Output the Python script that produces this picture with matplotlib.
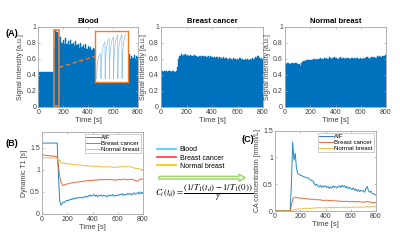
import numpy as np
import matplotlib
matplotlib.use("Agg")
import matplotlib.pyplot as plt
from matplotlib.patches import Rectangle, FancyArrow
from matplotlib.lines import Line2D
from matplotlib.ticker import FuncFormatter

plt.rcParams["font.family"] = ["Liberation Sans", "DejaVu Sans"]
plt.rcParams["mathtext.fontset"] = "stix"

# time grid (s)
t = np.arange(0, 801, 10)

# upper envelope of the signal intensity (a.u.)
blood_sig = [0.43] * 13 + [
    0.75, 0.96, 0.93, 0.88, 0.84, 0.87, 0.80, 0.83, 0.78, 0.86, 0.79, 0.82,
    0.77, 0.84, 0.78, 0.80, 0.76, 0.82, 0.77, 0.79, 0.74, 0.80, 0.75, 0.77,
    0.73, 0.78, 0.72, 0.76, 0.73, 0.75, 0.71, 0.74,
    0.72, 0.70, 0.74, 0.70, 0.72, 0.69, 0.73, 0.69, 0.71, 0.68, 0.72, 0.68,
    0.70, 0.67, 0.71, 0.67, 0.69, 0.66, 0.70, 0.66, 0.68, 0.65, 0.69, 0.65,
    0.67, 0.64,
    0.68, 0.62, 0.66, 0.60, 0.64, 0.61, 0.65, 0.60, 0.63, 0.62]
cancer_sig = [
    0.45, 0.45, 0.44, 0.45, 0.45, 0.44, 0.45, 0.45, 0.44, 0.45, 0.45, 0.44,
    0.45,
    0.50, 0.60, 0.64, 0.66, 0.64, 0.65, 0.66, 0.64, 0.65, 0.63, 0.65, 0.64,
    0.63, 0.65, 0.63, 0.64, 0.62, 0.64, 0.63, 0.62, 0.64, 0.62, 0.63, 0.62,
    0.63, 0.61, 0.63, 0.62,
    0.61, 0.62, 0.61, 0.62, 0.60, 0.62, 0.61, 0.60, 0.62, 0.60,
    0.61, 0.60, 0.59, 0.61, 0.60, 0.59, 0.61, 0.60, 0.59, 0.60,
    0.59, 0.61, 0.59, 0.60, 0.58, 0.60, 0.59, 0.60, 0.59, 0.60,
    0.59, 0.61, 0.60, 0.62, 0.61, 0.63, 0.61, 0.60, 0.61, 0.60]
normal_sig = [
    0.55, 0.54, 0.55, 0.55, 0.54, 0.55, 0.55, 0.54, 0.55, 0.55, 0.54, 0.53,
    0.51, 0.55, 0.56, 0.57, 0.57, 0.58, 0.58, 0.59, 0.59,
    0.58, 0.59, 0.60, 0.59, 0.60, 0.59, 0.60, 0.61, 0.60, 0.60,
    0.61, 0.60, 0.61, 0.60, 0.62, 0.61, 0.60, 0.61, 0.62, 0.61,
    0.61, 0.60, 0.61, 0.62, 0.60, 0.61, 0.60, 0.61, 0.60, 0.61,
    0.60, 0.60, 0.61, 0.60, 0.61, 0.60, 0.61, 0.60, 0.60, 0.61,
    0.60, 0.61, 0.60, 0.61, 0.62, 0.61, 0.60, 0.61, 0.62, 0.61,
    0.62, 0.61, 0.63, 0.62, 0.63, 0.62, 0.64, 0.63, 0.64, 0.65]

# zoomed view of the blood signal oscillation
inset_x = [0.0, 0.1, 0.3, 0.6, 0.95, 1.0, 1.1, 1.3, 1.6, 1.95,
           2.0, 2.1, 2.3, 2.6, 2.95, 3.0, 3.1, 3.3, 3.6, 3.95,
           4.0, 4.1, 4.3, 4.6, 4.95, 5.0, 5.1, 5.3, 5.6, 5.95,
           6.0, 6.1, 6.3, 6.6, 6.95]
inset_y = [0.07, 0.29, 0.44, 0.52, 0.56, 0.07, 0.39, 0.61, 0.73, 0.79,
           0.07, 0.43, 0.66, 0.80, 0.86, 0.07, 0.44, 0.69, 0.82, 0.89,
           0.07, 0.45, 0.71, 0.85, 0.92, 0.07, 0.46, 0.72, 0.86, 0.93,
           0.07, 0.47, 0.73, 0.88, 0.95]

# dynamic T1 (s)
aif_t1 = [1.6] * 13 + [
    0.90, 0.30, 0.20, 0.24, 0.27, 0.26, 0.30, 0.31,
    0.30, 0.33, 0.32, 0.35, 0.33, 0.36, 0.35, 0.37, 0.36, 0.38,
    0.37, 0.36, 0.39, 0.38, 0.40, 0.38, 0.41, 0.43, 0.40, 0.42,
    0.44, 0.40, 0.43, 0.39, 0.42, 0.41, 0.43, 0.40, 0.42, 0.41,
    0.39, 0.42, 0.40, 0.43, 0.41, 0.44, 0.40, 0.42, 0.41, 0.43,
    0.42, 0.45, 0.43, 0.46, 0.42, 0.44, 0.43, 0.47, 0.44, 0.46,
    0.43, 0.45, 0.48, 0.44, 0.46, 0.49, 0.45, 0.50, 0.46, 0.48]
cancer_t1 = [
    1.34, 1.33, 1.33, 1.32, 1.32, 1.32, 1.31, 1.31, 1.31, 1.31, 1.30, 1.30,
    1.30,
    1.10, 0.85, 0.72, 0.66, 0.64, 0.66, 0.67, 0.68,
    0.68, 0.69, 0.70, 0.70, 0.71, 0.71, 0.72, 0.72, 0.72, 0.73,
    0.73, 0.74, 0.74, 0.74, 0.75, 0.75, 0.75, 0.76, 0.75, 0.76,
    0.76, 0.77, 0.76, 0.77, 0.77, 0.78, 0.77, 0.78, 0.77, 0.78,
    0.78, 0.77, 0.78, 0.77, 0.78, 0.77, 0.77, 0.76, 0.77, 0.77,
    0.78, 0.77, 0.78, 0.78, 0.79, 0.78, 0.77, 0.78, 0.77, 0.78,
    0.79, 0.78, 0.76, 0.75, 0.74, 0.75, 0.77, 0.79, 0.78, 0.79]
normal_t1 = [
    1.27, 1.27, 1.27, 1.27, 1.27, 1.27, 1.27, 1.26, 1.27, 1.27, 1.27, 1.26,
    1.26,
    1.18, 1.22, 1.16, 1.15, 1.15, 1.14, 1.14, 1.13,
    1.13, 1.12, 1.13, 1.12, 1.11, 1.12, 1.11, 1.11, 1.10, 1.11,
    1.10, 1.09, 1.10, 1.09, 1.09, 1.08, 1.09, 1.08, 1.08, 1.08,
    1.07, 1.08, 1.07, 1.07, 1.08, 1.07, 1.06, 1.07, 1.06, 1.07,
    1.06, 1.06, 1.07, 1.06, 1.06, 1.05, 1.06, 1.06, 1.05, 1.06,
    1.06, 1.07, 1.06, 1.07, 1.07, 1.08, 1.07, 1.06, 1.07, 1.06,
    1.06, 1.05, 1.04, 1.03, 1.02, 1.03, 1.02, 1.01, 1.00, 1.00]

# CA concentration (mmol/L)
aif_ca = [
    0.00, 0.01, 0.00, 0.01, 0.00, 0.00, 0.01, 0.00, 0.01, 0.00, 0.00, 0.01,
    0.00,
    0.50, 1.29, 0.95, 1.08, 0.80, 0.70, 0.69, 0.67,
    0.66, 0.65, 0.64, 0.63, 0.62, 0.62, 0.60, 0.58, 0.57, 0.56,
    0.52, 0.48, 0.50, 0.46, 0.45, 0.48, 0.44, 0.47, 0.45, 0.47,
    0.44, 0.46, 0.42, 0.45, 0.43, 0.47, 0.44, 0.46, 0.43, 0.45,
    0.47, 0.44, 0.48, 0.45, 0.47, 0.43, 0.46, 0.42, 0.44, 0.42,
    0.40, 0.43, 0.39, 0.41, 0.37, 0.40, 0.36, 0.39, 0.37, 0.38,
    0.35, 0.42, 0.46, 0.38, 0.35, 0.37, 0.33, 0.32, 0.31, 0.30]
cancer_ca = [0.0] * 13 + [
    0.10, 0.22, 0.25, 0.26, 0.25, 0.25, 0.24, 0.24,
    0.24, 0.24, 0.23, 0.23, 0.23, 0.23, 0.22, 0.22, 0.22, 0.22,
    0.22, 0.21, 0.21, 0.21, 0.21, 0.21, 0.20, 0.20, 0.20, 0.20,
    0.20, 0.20, 0.19, 0.20, 0.19, 0.19, 0.19, 0.19, 0.19, 0.18,
    0.19, 0.18, 0.18, 0.18, 0.18, 0.18, 0.18, 0.18, 0.17, 0.18,
    0.18, 0.17, 0.18, 0.17, 0.17, 0.18, 0.17, 0.17, 0.17, 0.16,
    0.17, 0.17, 0.18, 0.17, 0.17, 0.16, 0.16, 0.16, 0.15, 0.16]
normal_ca = [0.0] * 13 + [
    0.00, 0.01, 0.02, 0.03, 0.03, 0.04, 0.04, 0.04,
    0.04, 0.04, 0.05, 0.05, 0.05, 0.05, 0.05, 0.05, 0.05, 0.05,
    0.06, 0.05, 0.06, 0.06, 0.06, 0.06, 0.06, 0.06, 0.06, 0.06,
    0.06, 0.06, 0.07, 0.06, 0.06, 0.07, 0.06, 0.07, 0.06, 0.07,
    0.07, 0.06, 0.07, 0.07, 0.06, 0.07, 0.07, 0.07, 0.06, 0.07,
    0.07, 0.07, 0.07, 0.07, 0.08, 0.07, 0.07, 0.07, 0.08, 0.07,
    0.07, 0.08, 0.08, 0.07, 0.08, 0.08, 0.08, 0.08, 0.08, 0.08]

titles = ["Blood", "Breast cancer", "Normal breast"]
legend_b = ["AIF", "Breast cancer", "Normal breast"]
legend_mid = ["Blood", "Breast cancer", "Normal breast"]

BLUE = "#0072BD"
ORANGE = "#D95319"
YELLOW = "#EDB120"
BOX = "#ED7D31"
GREY = "#a6a6a6"
TXT = "#404040"

fmt = FuncFormatter(lambda v, p: f"{v:g}")


def style(ax, ylabel):
    for s in ax.spines.values():
        s.set_color(GREY)
        s.set_linewidth(0.6)
    ax.tick_params(direction="in", length=1.5, width=0.5, colors=GREY,
                   labelcolor=TXT, labelsize=5, pad=1.5,
                   top=True, right=True)
    ax.set_xlim(0, 800)
    ax.set_xticks([0, 200, 400, 600, 800])
    ax.yaxis.set_major_formatter(fmt)
    ax.set_xlabel("Time [s]", fontsize=5.5, color=TXT, labelpad=1)
    ax.set_ylabel(ylabel, fontsize=5, color=TXT, labelpad=1.5)


def small_legend(ax):
    lg = ax.legend(loc="upper right", fontsize=4.4, handlelength=2.2,
                   borderpad=0.2, labelspacing=0.1, handletextpad=0.3,
                   fancybox=False, borderaxespad=0.3)
    lg.get_frame().set_edgecolor(GREY)
    lg.get_frame().set_linewidth(0.5)


fig = plt.figure(figsize=(4, 2.41), dpi=100)

tops = [(38.3, 138), (161, 263), (285, 386)]
for (x0, x1), title, sig in zip(tops, titles,
                                [blood_sig, cancer_sig, normal_sig]):
    ax = fig.add_axes([x0 / 400, 1 - 106.7 / 241, (x1 - x0) / 400, 80 / 241])
    ax.fill_between(t, 0, sig, step="mid", facecolor=BLUE, edgecolor=BLUE,
                    lw=0.3)
    ax.set_ylim(0, 1)
    ax.set_yticks([0, 0.2, 0.4, 0.6, 0.8, 1])
    style(ax, "Signal intensity [a.u.]")
    ax.set_title(title, fontsize=5.5, fontweight="bold", pad=3)
    if title == "Blood":
        ax.add_patch(Rectangle((122, 0.01), 47, 0.95, fill=False,
                               ec=BOX, lw=1.2, zorder=5))
        ax.plot([169, 455], [0.49, 0.63], ls=(0, (3, 2)), color=BOX,
                lw=1.0, zorder=5)
        ins = ax.inset_axes([455, 0.305, 261, 0.64], transform=ax.transData)
        ins.plot(inset_x, inset_y, color="#8fc3ea", lw=0.5)
        ins.set_xlim(-0.4, 7.3)
        ins.set_ylim(0, 1)
        ins.set_xticks([])
        ins.set_yticks([])
        for s in ins.spines.values():
            s.set_color(BOX)
            s.set_linewidth(1.0)

axb = fig.add_axes([42 / 400, 1 - 214 / 241, 101 / 400, 82 / 241])
for y, c, lab in zip([aif_t1, cancer_t1, normal_t1], [BLUE, ORANGE, YELLOW],
                     legend_b):
    axb.plot(t, y, color=c, lw=0.7, label=lab, alpha=0.85)
axb.set_ylim(0, 1.85)
axb.set_yticks([0, 0.5, 1, 1.5])
style(axb, "Dynamic T1 [s]")
small_legend(axb)

axc = fig.add_axes([275 / 400, 1 - 211 / 241, 101 / 400, 80.3 / 241])
for y, c, lab in zip([aif_ca, cancer_ca, normal_ca], [BLUE, ORANGE, YELLOW],
                     legend_b):
    axc.plot(t, y, color=c, lw=0.7, label=lab, alpha=0.85)
axc.set_ylim(0, 1.5)
axc.set_yticks([0, 0.5, 1, 1.5])
style(axc, "CA concentration [mmol/L]")
small_legend(axc)

# middle legend, arrow and formula
handles = [Line2D([], [], color=c, lw=1.2)
           for c in ["#4fc3f7", "#ff3b3b", "#ffc000"]]
fig.legend(handles, legend_mid, loc="upper left",
           bbox_to_anchor=(154 / 400, 1 - 143 / 241), frameon=False,
           fontsize=5, handlelength=2.6, labelspacing=0.15,
           handletextpad=0.6, borderpad=0)
fig.add_artist(FancyArrow(159 / 400, 1 - 177.7 / 241, 80 / 400, 0,
                          width=0.012, head_width=0.03, head_length=0.016,
                          length_includes_head=False,
                          transform=fig.transFigure, fc="#e2f0d9",
                          ec="#92d050", lw=0.8))
fig.text(155 / 400, 1 - 193 / 241,
         r"$C_t(t_d)=\dfrac{\left(1/T_1(t_d)-1/T_1(0)\right)}{\gamma}$",
         fontsize=6.4, va="center", ha="left")

fig.text(6 / 400, 1 - 33 / 241, "(A)", fontsize=6.5, fontweight="bold",
         va="center")
fig.text(5 / 400, 1 - 144 / 241, "(B)", fontsize=6.5, fontweight="bold",
         va="center")
fig.text(242 / 400, 1 - 140 / 241, "(C)", fontsize=6.5, fontweight="bold",
         va="center")

fig.savefig("out.png", dpi=100)
